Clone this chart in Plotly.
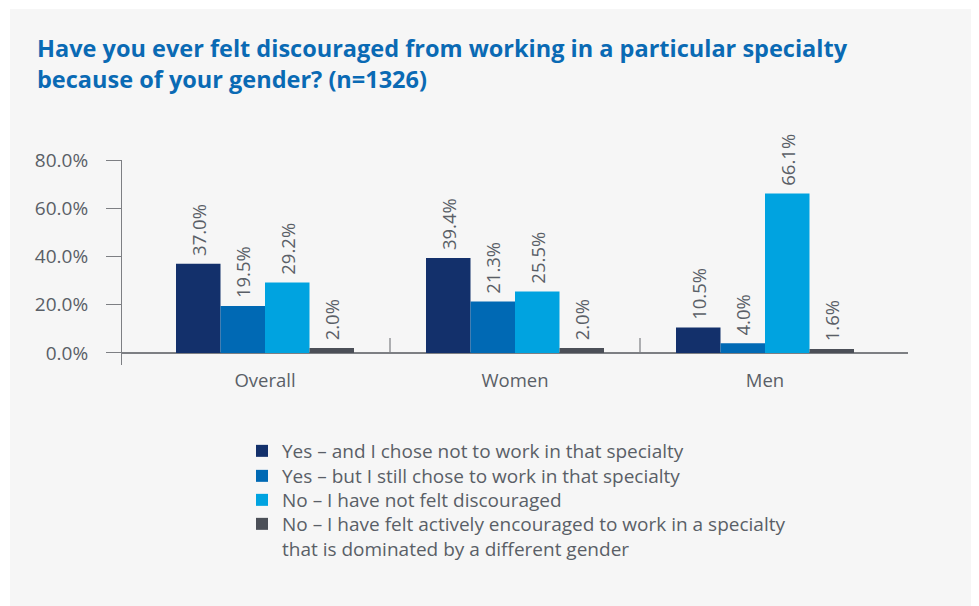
import plotly.graph_objects as go

# Survey data
groups = ['Overall', 'Women', 'Men']
series_names = [
    'Yes – and I chose not to work in that specialty',
    'Yes – but I still chose to work in that specialty',
    'No – I have not felt discouraged',
    'No – I have felt actively encouraged to work in a specialty<br>that is dominated by a different gender',
]
yes_not_chosen = [37.0, 39.4, 10.5]
yes_still_chosen = [19.5, 21.3, 4.0]
no_not_discouraged = [29.2, 25.5, 66.1]
no_encouraged = [2.0, 2.0, 1.6]
y_ticks = [0, 20, 40, 60, 80]

COLORS = ['#13306b', '#0069b4', '#00a3e0', '#4b4f57']
TEXT = '#5a5f67'
AXIS = '#7d7f83'
FONT = 'Open Sans'

# page has an 8px body margin, so the figure is drawn 8px smaller
OFF = 8
W, H = 979 - OFF, 606 - OFF
L, R, T, B = 122 - OFF, 71, 160 - OFF, 241
pw, ph = W - L - R, H - T - B


def px_x(p):  # page pixel -> paper x
    return (p - OFF - L) / pw


def px_y(p):  # page pixel -> paper y
    return (H - B - (p - OFF)) / ph


# one legend per row so the rows sit as tight as in the original
legend_ids = ['legend', 'legend2', 'legend3', 'legend4']
row_centers = [451, 476, 500, 524]

fig = go.Figure()
for name, vals, col, lg in zip(series_names,
                               [yes_not_chosen, yes_still_chosen, no_not_discouraged, no_encouraged],
                               COLORS, legend_ids):
    fig.add_trace(go.Bar(
        x=groups, y=vals, name=name, legend=lg,
        marker=dict(color=col, line=dict(width=0)),
        texttemplate='\u00a0%{y:.1f}%', textposition='outside', textangle=-90,
        textfont=dict(color=TEXT, size=18.5, family=FONT),
        constraintext='none', cliponaxis=False,
    ))

# divider ticks between categories
for xb in [0.5, 1.5]:
    fig.add_shape(type='line', xref='x', yref='y', x0=xb, x1=xb, y0=0, y1=6.2,
                  line=dict(color=AXIS, width=1.2))

# grey panel background
fig.add_shape(type='rect', xref='paper', yref='paper', layer='below',
              x0=px_x(10), x1=px_x(990), y0=px_y(620), y1=px_y(9),
              fillcolor='#f6f6f6', line=dict(width=0))

legends = {}
for lg, yc in zip(legend_ids, row_centers):
    legends[lg] = dict(
        x=px_x(242), xanchor='left', y=px_y(yc - 19), yanchor='top',
        font=dict(size=19, color=TEXT), itemwidth=30, valign='top',
        bgcolor='rgba(0,0,0,0)',
    )

fig.update_layout(
    width=W, height=H,
    margin=dict(l=L, r=R, t=T, b=B),
    paper_bgcolor='white', plot_bgcolor='rgba(0,0,0,0)',
    barmode='group', bargap=0.288, bargroupgap=0,
    font=dict(family=FONT, color=TEXT, size=18),
    title=dict(
        text='<b>Have you ever felt discouraged from working in a particular specialty<br>because of your gender? (n=1326)</b>',
        x=(37 - OFF) / W, xanchor='left', xref='container',
        y=1 - (57 - OFF) / H, yanchor='top', yref='container',
        font=dict(family=FONT, size=23.5, color='#0a6ab4'),
    ),
    xaxis=dict(
        range=[-0.572, 2.572], showline=False, showgrid=False, zeroline=False,
        ticks='', tickfont=dict(size=18.5, color=TEXT), ticklabelstandoff=2,
    ),
    yaxis=dict(
        range=[-5, 80], tickvals=y_ticks, ticktext=[f'{v:.1f}%' for v in y_ticks],
        showgrid=False, showline=True, linecolor=AXIS, linewidth=1.2,
        ticks='outside', ticklen=15, tickcolor=AXIS, tickwidth=1.2,
        zeroline=True, zerolinecolor=AXIS, zerolinewidth=1.5,
        tickfont=dict(size=19, color=TEXT), ticklabelstandoff=14,
    ),
    showlegend=True,
    **legends,
)

fig.write_html('out.html')
